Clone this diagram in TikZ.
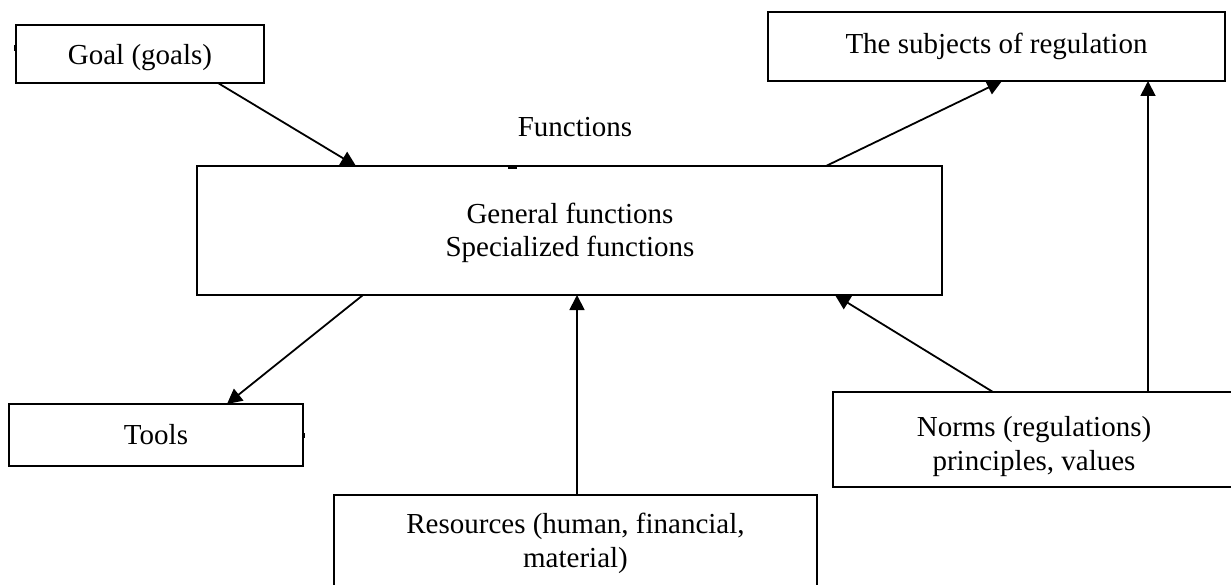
\documentclass[tikz,border=0pt]{standalone}
\usepackage{fontspec}
\setmainfont{Liberation Serif}
\usetikzlibrary{arrows.meta}
\begin{document}
\begin{tikzpicture}[x=1pt,y=-1pt,
  box/.style={draw=black, line width=2pt, inner sep=0pt, outer sep=0pt, align=center,
    font=\fontsize{29}{34}\selectfont},
  arr/.style={line width=1.8pt, -{Triangle[length=15pt,width=15pt]}},
  lbl/.style={inner sep=0pt, font=\fontsize{29}{34}\selectfont}]
\useasboundingbox (0,0) rectangle (1231,585);
% boxes
\node[box, minimum width=248, minimum height=58] (goal) at (140,54) {};
\node[lbl, anchor=base] (goaltext) at (140,65) {Goal (goals)};
\node[box, minimum width=457, minimum height=69] (subj) at (996.5,46.5) {The subjects of regulation};
\node[box, minimum width=745, minimum height=129] (main) at (569.5,230.5) {};
\node[lbl, align=center, anchor=base, font=\fontsize{29}{33}\selectfont] (maintext) at (570,257) {General functions\\Specialized functions};
\node[box, minimum width=294, minimum height=62] (tools) at (156,435) {Tools};
\node[box, minimum width=483, minimum height=130, anchor=north west] (res) at (334,495) {};
\node[lbl, align=center, anchor=base] (restext) at (575.5,567) {Resources (human, financial,\\material)};
\node[box, minimum width=420, minimum height=95, anchor=north west] (norms) at (833,392) {};
\node[lbl, align=center, anchor=base] (normstext) at (1034,470) {Norms (regulations)\\principles, values};
\node[lbl] (func) at (575,127) {Functions};
% connectors
\draw[arr] ([xshift=78]goal.south) -- ([xshift=159]main.north west);
\draw[arr] ([xshift=629]main.north west) -- ([xshift=234]subj.south west);
\draw[arr] ([xshift=315]norms.north west) -- ([xshift=380]subj.south west);
\draw[arr] ([xshift=160]norms.north west) -- ([xshift=638]main.south west);
\draw[arr] ([xshift=166]main.south west) -- ([xshift=218]tools.north west);
\draw[arr] ([xshift=243]res.north west) -- ([xshift=380]main.south west);
% small marks
\fill ([yshift=-3]main.north west) ++(311,0) rectangle ++(9,-3);
\fill ([yshift=3]goal.west) ++(-2,0) rectangle ++(2,-6);
\fill ([yshift=-3]tools.east) rectangle ++(2,-5);
\end{tikzpicture}
\end{document}
